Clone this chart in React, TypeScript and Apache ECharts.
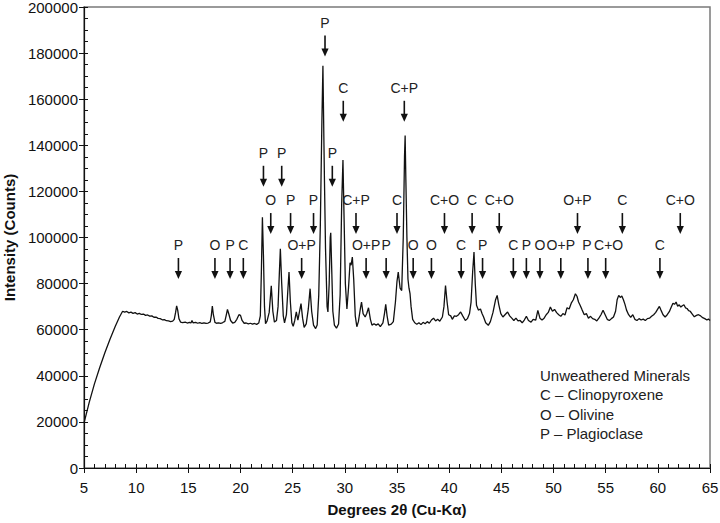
import React, { useEffect, useRef } from "react";
import * as echarts from "echarts";

// XRD pattern: [2θ (degrees), intensity (counts)]
const pattern: [number, number][] = [
  [5.0, 19500], [5.5, 28500], [6.0, 36500], [6.5, 43500], [7.0, 50000], [7.5, 56000], [8.0, 61500], [8.4, 65500], [8.7, 68000],
  [8.9, 67600], [9.1, 67900], [9.3, 67300], [9.5, 67600], [9.7, 67100], [9.9, 67400], [10.1, 66800], [10.3, 67100], [10.5, 66600],
  [10.7, 66800], [10.9, 66200], [11.1, 66400], [11.3, 65900], [11.5, 66000], [11.7, 65400], [11.9, 65500], [12.1, 64900], [12.3, 64800],
  [12.5, 64300], [12.7, 64400], [12.9, 63900], [13.1, 63800], [13.3, 63500], [13.5, 63700], [13.65, 64500], [13.78, 67500], [13.88, 70300],
  [13.98, 68500], [14.1, 64800], [14.25, 63300], [14.45, 63100], [14.7, 63300], [14.9, 62900], [15.1, 63200], [15.25, 62900], [15.35, 64000],
  [15.45, 63000], [15.7, 63200], [15.9, 62800], [16.1, 63100], [16.3, 62700], [16.5, 63000], [16.7, 62700], [16.9, 62900], [17.1, 63400],
  [17.2, 66000], [17.3, 70200], [17.4, 66500], [17.55, 63200], [17.7, 62800], [17.9, 63000], [18.1, 62700], [18.3, 63100], [18.5, 63600],
  [18.62, 66000], [18.75, 68800], [18.88, 66800], [19.05, 64000], [19.25, 62900], [19.45, 63200], [19.65, 64500], [19.85, 66500], [20.0, 66200],
  [20.15, 64000], [20.35, 62800], [20.55, 62900], [20.75, 62500], [20.95, 62800], [21.15, 62400], [21.35, 62700], [21.55, 62300], [21.75, 62900],
  [21.9, 66000], [22.0, 85000], [22.1, 108800], [22.2, 92000], [22.3, 70000], [22.4, 62600], [22.55, 63800], [22.75, 67500], [22.95, 79000],
  [23.1, 68000], [23.25, 63300], [23.45, 64000], [23.6, 70000], [23.72, 84000], [23.82, 95100], [23.95, 80000], [24.1, 66000], [24.22, 63000],
  [24.4, 66500], [24.55, 78000], [24.65, 85000], [24.78, 72000], [24.92, 63000], [25.05, 61500], [25.2, 64000], [25.35, 67700], [25.5, 64200],
  [25.6, 66500], [25.8, 71300], [25.95, 65000], [26.1, 61000], [26.3, 62500], [26.5, 69000], [26.67, 77800], [26.82, 68000], [27.0, 62000],
  [27.2, 60500], [27.35, 62000], [27.5, 75000], [27.65, 105000], [27.8, 150000], [27.9, 174500], [28.0, 140000], [28.05, 124000], [28.15, 95000],
  [28.3, 70000], [28.38, 67700], [28.5, 80000], [28.6, 100000], [28.65, 102000], [28.75, 85000], [28.85, 68000], [29.0, 62000], [29.2, 60700],
  [29.4, 62500], [29.55, 75000], [29.7, 115000], [29.82, 133600], [29.92, 110000], [30.05, 80000], [30.2, 69000], [30.35, 78000], [30.5, 89000],
  [30.6, 88000], [30.72, 91500], [30.85, 82000], [31.0, 66000], [31.15, 61300], [31.3, 63500], [31.5, 69500], [31.6, 72000], [31.75, 67000],
  [31.95, 65500], [32.1, 67000], [32.27, 69500], [32.45, 64500], [32.6, 62000], [32.8, 62600], [33.0, 62000], [33.2, 62500], [33.4, 61300],
  [33.65, 63000], [33.8, 67000], [33.92, 71000], [34.05, 66000], [34.2, 62000], [34.45, 62400], [34.65, 63500], [34.85, 72000], [35.0, 81000],
  [35.12, 85000], [35.3, 78000], [35.45, 77000], [35.6, 100000], [35.72, 135000], [35.78, 144200], [35.85, 125000], [35.95, 100000], [36.05, 82000],
  [36.15, 78000], [36.25, 75600], [36.35, 70000], [36.5, 64500], [36.7, 63000], [36.9, 62400], [37.1, 63000], [37.3, 62200], [37.5, 63200],
  [37.7, 62600], [37.9, 63500], [38.1, 62800], [38.3, 64200], [38.5, 65000], [38.7, 63800], [38.9, 64500], [39.1, 63700], [39.35, 65500],
  [39.5, 70000], [39.65, 79200], [39.8, 72000], [39.95, 66500], [40.15, 66000], [40.3, 64500], [40.5, 66000], [40.7, 65800], [40.9, 66500],
  [41.1, 67700], [41.3, 66000], [41.55, 64000], [41.75, 64800], [41.95, 67000], [42.1, 72000], [42.25, 85000], [42.38, 93700], [42.5, 80000],
  [42.62, 70600], [42.8, 68500], [43.0, 69000], [43.15, 67000], [43.3, 65500], [43.5, 63000], [43.75, 61900], [43.95, 63500], [44.2, 67500],
  [44.45, 73000], [44.6, 74900], [44.75, 71000], [44.95, 67000], [45.15, 65500], [45.35, 66500], [45.6, 67700], [45.8, 66000], [46.0, 65000],
  [46.2, 64000], [46.4, 65000], [46.6, 63800], [46.8, 64000], [47.0, 63000], [47.2, 64200], [47.4, 65800], [47.6, 64000], [47.85, 63300],
  [48.05, 64500], [48.3, 64200], [48.5, 68400], [48.7, 65000], [48.9, 64200], [49.1, 65000], [49.3, 66500], [49.5, 67500], [49.7, 69800],
  [49.9, 68000], [50.1, 68800], [50.3, 67400], [50.5, 66500], [50.7, 65800], [50.9, 67000], [51.1, 66400], [51.3, 69500], [51.5, 69000],
  [51.7, 71500], [51.9, 73000], [52.1, 75600], [52.25, 74500], [52.4, 72000], [52.55, 70600], [52.75, 68500], [52.95, 66500], [53.15, 67000],
  [53.35, 65000], [53.55, 65800], [53.75, 64800], [53.95, 64500], [54.15, 63800], [54.35, 65000], [54.55, 66500], [54.75, 68400], [54.95, 66500],
  [55.15, 64500], [55.35, 64000], [55.55, 64800], [55.75, 65500], [55.95, 68000], [56.1, 73000], [56.25, 74900], [56.4, 74000], [56.55, 74600],
  [56.7, 73000], [56.85, 71000], [57.0, 68500], [57.2, 66500], [57.4, 65300], [57.6, 66500], [57.8, 64500], [58.0, 64000], [58.2, 64800],
  [58.4, 64200], [58.6, 64600], [58.8, 64000], [59.0, 64800], [59.2, 65000], [59.4, 65800], [59.6, 66500], [59.8, 67500], [60.0, 69000],
  [60.15, 70100], [60.3, 68500], [60.5, 66500], [60.7, 65500], [60.9, 66500], [61.1, 67800], [61.3, 70000], [61.45, 71500], [61.6, 71000],
  [61.75, 72000], [61.9, 70200], [62.05, 70800], [62.2, 69800], [62.35, 70400], [62.5, 70800], [62.65, 69500], [62.8, 69200], [62.95, 68300],
  [63.1, 68000], [63.3, 66800], [63.5, 65600], [63.7, 66200], [63.9, 66500], [64.1, 66000], [64.3, 65200], [64.5, 64800], [64.7, 64200],
  [64.85, 64600], [65.0, 64000],
];

// Peak annotations: mineral label, 2θ of the arrow, intensity at the arrow tip
const annoLabels = [
  "P", "O", "P", "C", "O+P", "O+P", "P", "O", "O", "C", "P", "C", "P", "O", "O+P", "P", "C+O", "C",
  "O", "P", "P", "C+P", "C", "C+O", "C", "C+O", "O+P", "C", "C+O",
  "P", "P", "P",
  "C", "C+P",
  "P",
];
const annoTheta = [
  14.05, 17.55, 19.0, 20.27, 25.86, 32.04, 33.96, 36.55, 38.3, 41.15, 43.2, 46.15, 47.4, 48.7, 50.7, 53.3, 55.0, 60.2,
  22.9, 24.8, 27.0, 31.07, 35.0, 39.55, 42.2, 44.8, 52.3, 56.6, 62.15,
  22.2, 23.95, 28.8,
  29.85, 35.7,
  28.1,
];
const annoTip = [
  82000, 82000, 82000, 82000, 82000, 82000, 82000, 82000, 82000, 82000, 82000, 82000, 82000, 82000, 82000, 82000, 82000, 82000,
  101500, 101500, 101500, 101500, 101500, 101500, 101500, 101500, 101500, 101500, 101500,
  122000, 122000, 122000,
  150200, 150200,
  178500,
];

const legendLines = ["Unweathered Minerals", "C \u2013 Clinopyroxene", "O \u2013 Olivine", "P \u2013 Plagioclase"];

const FONT = "'Liberation Sans', Arial, Helvetica, sans-serif";

// small horizontal label nudges (pixels) where labels crowd each other, by annotation index
const labelNudge: Record<number, number> = { 15: -1, 16: 3 };

export default function App() {
  const ref = useRef<HTMLDivElement>(null);
  useEffect(() => {
    if (!ref.current) return;
    const chart = echarts.init(ref.current, null, { renderer: "svg" });
    const annoData = annoTheta.map((t, i) => [t, annoTip[i]]);
    chart.setOption({
      animation: false,
      backgroundColor: "#fff",
      grid: {
        left: 84, top: 7, right: 10, bottom: 55, show: true, borderColor: "#7a7a7a", borderWidth: 1.5,
        backgroundColor: "transparent", outerBoundsMode: "none", containLabel: false,
      },
      xAxis: [
        {
          type: "value", min: 5, max: 65, interval: 5, position: "bottom",
          axisLine: { show: true, lineStyle: { color: "#111", width: 1.2 } },
          axisTick: { show: true, inside: false, length: 5, lineStyle: { color: "#111" } },
          axisLabel: { color: "#111", fontSize: 15, fontFamily: FONT, margin: 12, formatter: (v: number) => String(v) },
          splitLine: { show: false },
          name: "Degrees 2\u03b8 (Cu-K\u03b1)", nameLocation: "middle", nameGap: 34,
          nameTextStyle: { color: "#111", fontSize: 15, fontWeight: "bold", fontFamily: FONT },
        },
        {
          type: "value", min: 5, max: 65, interval: 5, position: "bottom", offset: 0,
          axisLine: { show: false },
          axisTick: { show: true, inside: true, length: 4, lineStyle: { color: "#111" } },
          minorTick: { show: true, splitNumber: 5, length: 4, lineStyle: { color: "#111" } },
          axisLabel: { show: false },
          splitLine: { show: false },
        },
      ],
      yAxis: [
        {
          type: "value", min: 0, max: 200000, interval: 20000, position: "left",
          axisLine: { show: true, lineStyle: { color: "#111", width: 1.2 } },
          axisTick: { show: true, inside: false, length: 5, lineStyle: { color: "#111" } },
          axisLabel: { color: "#111", fontSize: 15, fontFamily: FONT, margin: 6, formatter: (v: number) => String(v) },
          splitLine: { show: false },
          name: "Intensity (Counts)", nameLocation: "middle", nameGap: 62,
          nameTextStyle: { color: "#111", fontSize: 15, fontWeight: "bold", fontFamily: FONT },
        },
        {
          type: "value", min: 0, max: 200000, interval: 20000, position: "left", offset: 0,
          axisLine: { show: false },
          axisTick: { show: true, inside: true, length: 4, lineStyle: { color: "#111" } },
          minorTick: { show: true, splitNumber: 4, length: 4, lineStyle: { color: "#111" } },
          axisLabel: { show: false },
          splitLine: { show: false },
        },
      ],
      series: [
        {
          type: "line",
          data: pattern,
          showSymbol: false,
          symbol: "none",
          lineStyle: { color: "#111", width: 1.3 },
          xAxisIndex: 0, yAxisIndex: 0,
          z: 3,
        },
        {
          type: "custom",
          coordinateSystem: "cartesian2d",
          xAxisIndex: 0, yAxisIndex: 0,
          data: annoData,
          clip: false,
          z: 4,
          renderItem: (params: any, api: any) => {
            const p = api.coord([api.value(0), api.value(1)]);
            const label = annoLabels[params.dataIndex];
            const dx = labelNudge[params.dataIndex] || 0;
            return {
              type: "group",
              children: [
                {
                  type: "text",
                  style: {
                    text: label, x: p[0] + dx, y: p[1] - 34, align: "center", verticalAlign: "middle",
                    fontSize: 14, fontFamily: FONT, fill: "#222",
                  },
                },
                {
                  type: "line",
                  shape: { x1: p[0], y1: p[1] - 21, x2: p[0], y2: p[1] - 5 },
                  style: { stroke: "#111", lineWidth: 1.6 },
                },
                {
                  type: "polygon",
                  shape: { points: [[p[0] - 3.6, p[1] - 8], [p[0] + 3.6, p[1] - 8], [p[0], p[1]]] },
                  style: { fill: "#111" },
                },
              ],
            };
          },
        },
      ],
      graphic: legendLines.map((t, i) => ({
        type: "text",
        left: 540,
        top: 368 + i * 19.3,
        style: { text: t, fontSize: 15, fontFamily: FONT, fill: "#222" },
      })),
    });
    return () => chart.dispose();
  }, []);
  return <div ref={ref} style={{ width: 720, height: 523, position: "absolute", left: 0, top: 0 }} />;
}
